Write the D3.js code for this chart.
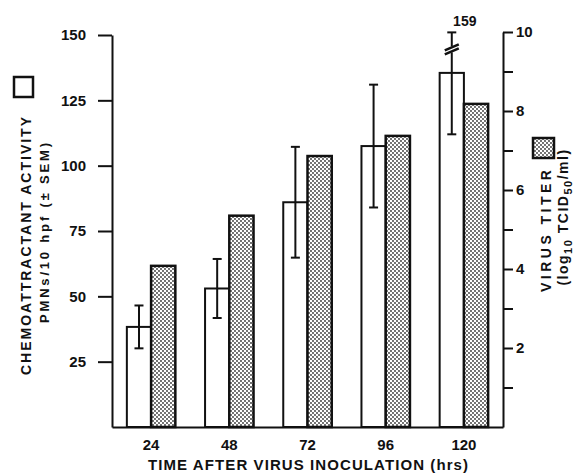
<!DOCTYPE html>
<html>
<head>
<meta charset="utf-8">
<script src="https://cdn.jsdelivr.net/npm/d3@7"></script>
<style>
  body { margin: 0; background: #fff; }
  svg text { font-family: "Liberation Sans", Arial, sans-serif; font-weight: bold; fill: #111; }
</style>
</head>
<body>
<div id="chart"></div>
<script>
const hours = ["24", "48", "72", "96", "120"];
const chemo = [38.3, 53, 86, 107.5, 135.5];      // PMNs/10 hpf
const sem = [8.2, 11.3, 21.2, 23.5, 23.5];        // +/- SEM
const titer = [4.08, 5.35, 6.86, 7.37, 8.18];     // log10 TCID50/ml
const leftTicks = [25, 50, 75, 100, 125, 150];
const rightTicks = [1, 2, 3, 4, 5, 6, 7, 8, 9, 10];

const w = 583;
const h = 474;
const yMaxShown = 151;   // error bar above this is broken

const svg = d3.select("#chart")
    .append("svg")
    .attr("width", w)
    .attr("height", h);

// stipple fill
const pat = svg.append("defs").append("pattern")
    .attr("id", "stip")
    .attr("width", 4)
    .attr("height", 4)
    .attr("patternUnits", "userSpaceOnUse");
pat.append("rect").attr("width", 4).attr("height", 4).attr("fill", "#fff");
pat.append("circle").attr("cx", 1).attr("cy", 1).attr("r", 0.9).attr("fill", "#333");
pat.append("circle").attr("cx", 3).attr("cy", 3).attr("r", 0.9).attr("fill", "#333");

const x = d3.scaleBand()
    .domain(hours)
    .range([112, 503])
    .padding(0);

const yLeft = d3.scaleLinear()
    .domain([0, 150])
    .range([427, 35]);

const yRight = d3.scaleLinear()
    .domain([0, 10])
    .range([427, 32]);

const barW = x.bandwidth() * 0.31;
const mid = d => x(d) + x.bandwidth() / 2;

// bars
svg.selectAll(".chemo")
    .data(hours)
    .enter()
    .append("rect")
    .attr("class", "chemo")
    .attr("x", d => mid(d) - barW)
    .attr("y", (d, i) => yLeft(chemo[i]))
    .attr("width", barW)
    .attr("height", (d, i) => yLeft(0) - yLeft(chemo[i]))
    .attr("fill", "#fff")
    .attr("stroke", "#111")
    .attr("stroke-width", 2);

svg.selectAll(".titer")
    .data(hours)
    .enter()
    .append("rect")
    .attr("class", "titer")
    .attr("x", d => mid(d))
    .attr("y", (d, i) => yRight(titer[i]))
    .attr("width", barW)
    .attr("height", (d, i) => yRight(0) - yRight(titer[i]))
    .attr("fill", "url(#stip)")
    .attr("stroke", "#111")
    .attr("stroke-width", 2.5);

// error bars
const eb = svg.selectAll(".err")
    .data(hours)
    .enter()
    .append("g")
    .attr("class", "err")
    .attr("stroke", "#111")
    .attr("stroke-width", 2);

const ex = d => mid(d) - barW / 2;
const hi = i => Math.min(chemo[i] + sem[i], yMaxShown);
const lo = i => chemo[i] - sem[i];

eb.append("line")
    .attr("x1", d => ex(d)).attr("x2", d => ex(d))
    .attr("y1", (d, i) => yLeft(lo(i)))
    .attr("y2", (d, i) => yLeft(hi(i)));
eb.append("line")
    .attr("x1", d => ex(d) - 4.5).attr("x2", d => ex(d) + 4.5)
    .attr("y1", (d, i) => yLeft(hi(i))).attr("y2", (d, i) => yLeft(hi(i)));
eb.append("line")
    .attr("x1", d => ex(d) - 4.5).attr("x2", d => ex(d) + 4.5)
    .attr("y1", (d, i) => yLeft(lo(i))).attr("y2", (d, i) => yLeft(lo(i)));

// broken bar(s): slash marks + real value
hours.forEach((d, i) => {
    const top = chemo[i] + sem[i];
    if (top <= yMaxShown) return;
    const cx = ex(d);
    const cy = yLeft(144.5);
    svg.append("rect")
        .attr("x", cx - 2).attr("y", cy - 3).attr("width", 4).attr("height", 6)
        .attr("fill", "#fff");
    [-2, 2].forEach(o => {
        svg.append("line")
            .attr("x1", cx - 7).attr("y1", cy + o + 3)
            .attr("x2", cx + 7).attr("y2", cy + o - 3)
            .attr("stroke", "#111")
            .attr("stroke-width", 2.6);
    });
    svg.append("text")
        .attr("x", cx + 13)
        .attr("y", 26)
        .attr("text-anchor", "middle")
        .attr("font-size", 14)
        .text(Math.round(top));
});

// axes
const axisLeft = d3.axisLeft(yLeft)
    .tickValues(leftTicks)
    .tickSize(14)
    .tickSizeOuter(0)
    .tickPadding(12);

svg.append("g")
    .attr("transform", "translate(112,0)")
    .call(axisLeft);

const axisRight = d3.axisRight(yRight)
    .tickValues(rightTicks)
    .tickSize(10)
    .tickSizeOuter(0)
    .tickPadding(3)
    .tickFormat(d => d % 2 === 0 ? d : "");

svg.append("g")
    .attr("transform", "translate(503,0)")
    .call(axisRight);

const axisBottom = d3.axisBottom(x)
    .tickSize(0)
    .tickSizeOuter(0)
    .tickPadding(12);

svg.append("g")
    .attr("transform", "translate(0,427)")
    .call(axisBottom);

svg.selectAll(".domain, .tick line")
    .attr("stroke", "#111")
    .attr("stroke-width", 2);
svg.selectAll(".tick text")
    .attr("font-size", 15)
    .attr("font-family", "Liberation Sans, Arial, sans-serif")
    .attr("font-weight", "bold")
    .attr("fill", "#111");

// titles
svg.append("text")
    .attr("x", 308)
    .attr("y", 470)
    .attr("text-anchor", "middle")
    .attr("font-size", 15)
    .attr("textLength", 320)
    .attr("lengthAdjust", "spacing")
    .text("TIME AFTER VIRUS INOCULATION (hrs)");

svg.append("text")
    .attr("transform", "translate(26,246) rotate(-90)")
    .attr("dy", "0.36em")
    .attr("text-anchor", "middle")
    .attr("font-size", 14)
    .attr("textLength", 258)
    .attr("lengthAdjust", "spacing")
    .text("CHEMOATTRACTANT ACTIVITY");

svg.append("text")
    .attr("transform", "translate(44,233) rotate(-90)")
    .attr("dy", "0.36em")
    .attr("text-anchor", "middle")
    .attr("font-size", 13)
    .attr("textLength", 180)
    .attr("lengthAdjust", "spacing")
    .text("PMNs/10 hpf (\u00b1 SEM)");

svg.append("rect")
    .attr("x", 14).attr("y", 77)
    .attr("width", 19).attr("height", 20)
    .attr("fill", "#fff")
    .attr("stroke", "#111")
    .attr("stroke-width", 2.5);

svg.append("text")
    .attr("transform", "translate(546,231) rotate(-90)")
    .attr("dy", "0.36em")
    .attr("text-anchor", "middle")
    .attr("font-size", 14)
    .attr("textLength", 122)
    .attr("lengthAdjust", "spacing")
    .text("VIRUS TITER");

const t2 = svg.append("text")
    .attr("transform", "translate(565,217) rotate(-90)")
    .attr("dy", "0.2em")
    .attr("text-anchor", "middle")
    .attr("font-size", 14)
    .attr("letter-spacing", 1.5);
t2.append("tspan").text("(log");
t2.append("tspan").attr("font-size", 11).attr("dy", 4).text("10");
t2.append("tspan").attr("dy", -4).text(" TCID");
t2.append("tspan").attr("font-size", 11).attr("dy", 4).text("50");
t2.append("tspan").attr("dy", -4).text("/ml)");

svg.append("rect")
    .attr("x", 533).attr("y", 138)
    .attr("width", 21).attr("height", 20)
    .attr("fill", "url(#stip)")
    .attr("stroke", "#111")
    .attr("stroke-width", 2.5);
</script>
</body>
</html>
